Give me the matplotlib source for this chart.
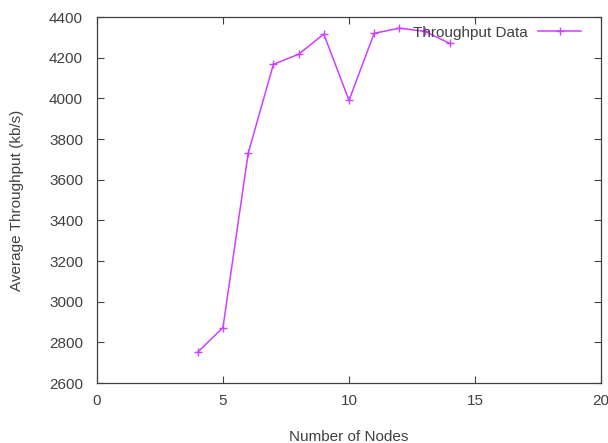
import matplotlib
matplotlib.use("Agg")
import matplotlib.pyplot as plt

nodes = [4, 5, 6, 7, 8, 9, 10, 11, 12, 13, 14]
throughput = [2752, 2873, 3730, 4167, 4217, 4316, 3990, 4320, 4345, 4330, 4270]
x_ticks = [0, 5, 10, 15, 20]
y_ticks = [2600, 2800, 3000, 3200, 3400, 3600, 3800, 4000, 4200, 4400]

plt.rcParams['font.family'] = ['Liberation Sans', 'DejaVu Sans']
fig = plt.figure(figsize=(6.08, 4.43), dpi=100)
ax = fig.add_axes([0.1595, 0.1354, 0.829, 0.8262])

color = '#cc40ff'
ax.plot(nodes, throughput, color=color, lw=1.1, marker='+', ms=6, mew=1.0,
        label='Throughput Data')

fs = 11
ax.set_xlim(0, 20)
ax.set_ylim(2600, 4400)
ax.set_xticks(x_ticks)
ax.set_yticks(y_ticks)
txtc = '#404040'
ax.tick_params(direction='in', top=True, right=True, length=5, width=0.8,
               colors='#404040', labelcolor=txtc, labelsize=fs)
ax.tick_params(axis='y', pad=10)
ax.tick_params(axis='x', pad=8)
for s in ax.spines.values():
    s.set_color('#404040')
    s.set_linewidth(0.9)

ax.set_xlabel('Number of Nodes', fontsize=fs, color=txtc, labelpad=16)
ax.set_ylabel('Average Throughput (kb/s)', fontsize=fs, color=txtc, labelpad=18)

leg = ax.legend(loc='upper right', frameon=False, markerfirst=False,
                fontsize=fs, handlelength=2.8, handletextpad=0.7,
                borderaxespad=0.3, bbox_to_anchor=(0.982, 1.006))
for t in leg.get_texts():
    t.set_color(txtc)

fig.savefig('out.png', dpi=100)
